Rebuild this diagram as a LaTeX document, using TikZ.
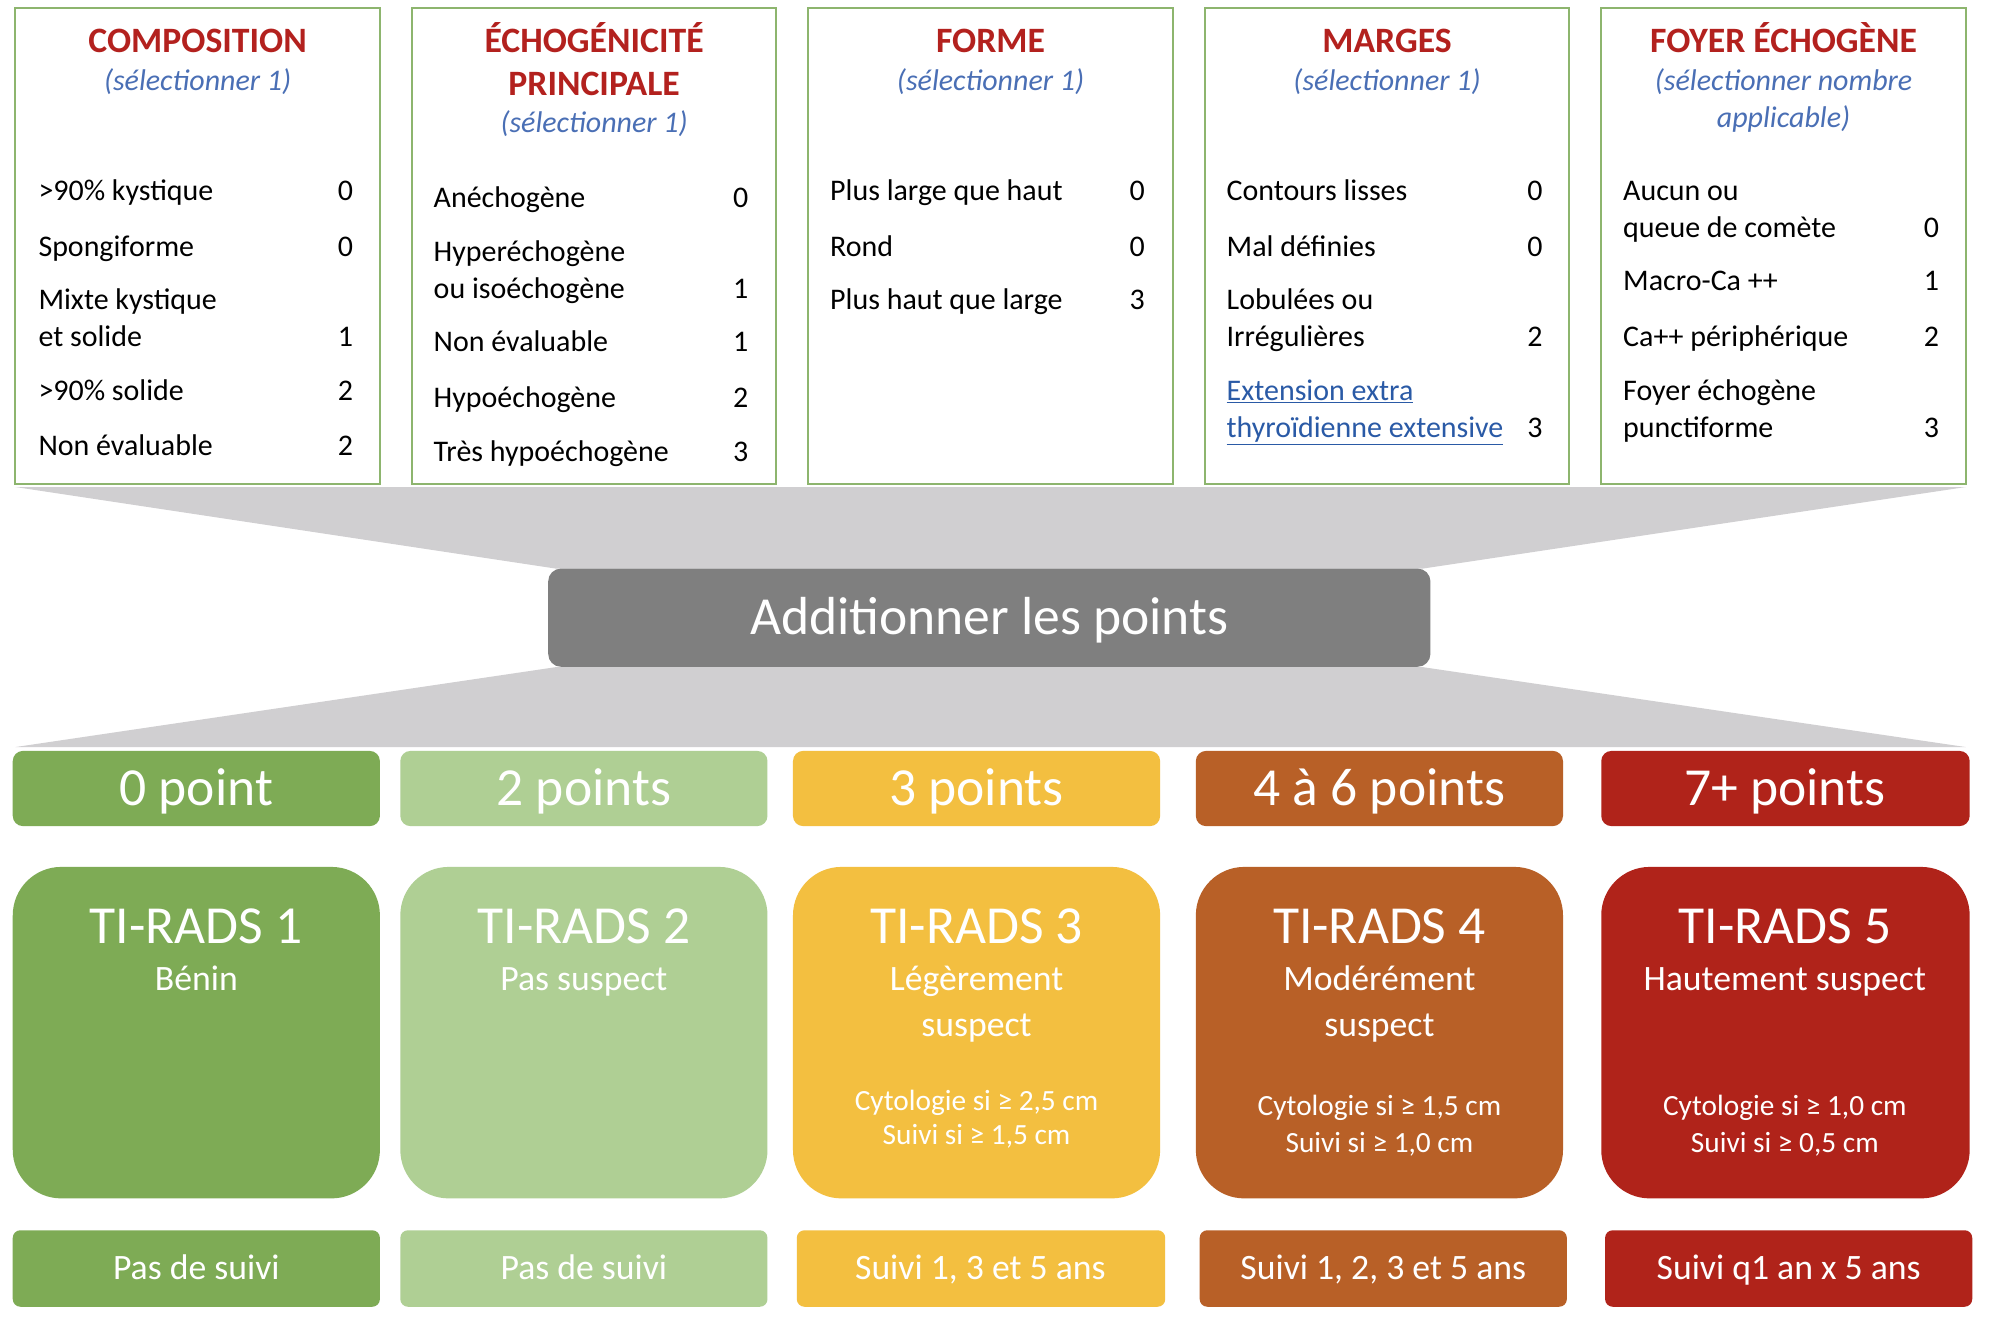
\documentclass[tikz,border=0pt]{standalone}
\usepackage{fontspec}
\setmainfont{Carlito}
\definecolor{boxgreen}{HTML}{8DB56E}
\definecolor{titlered}{HTML}{B3211E}
\definecolor{subblue}{HTML}{4A6FB5}
\definecolor{linkblue}{HTML}{2A5AA6}
\definecolor{funnel}{HTML}{D0CFD1}
\definecolor{sumgray}{HTML}{7F7F7F}
\definecolor{cA}{HTML}{7EAB55}
\definecolor{cB}{HTML}{AFCF94}
\definecolor{cC}{HTML}{F3BF40}
\definecolor{cD}{HTML}{B86027}
\definecolor{cE}{HTML}{B0231A}
\begin{document}
\begin{tikzpicture}[x=1pt,y=-1pt,
  critbox/.style={draw=boxgreen, line width=1.5pt, fill=white, inner sep=0, minimum width=286pt, minimum height=374pt},
  ttl/.style={font=\fontsize{28}{34}\selectfont\bfseries, text=titlered, anchor=base, inner sep=0},
  sub/.style={font=\fontsize{23.5}{28}\selectfont\itshape, text=subblue, anchor=base, inner sep=0},
  item/.style={font=\fontsize{23.5}{28}\selectfont, anchor=base west, inner sep=0},
  num/.style={font=\fontsize{23.5}{28}\selectfont, anchor=base, inner sep=0},
  lnk/.style={item, text=linkblue},
  ptbox/.style={inner sep=0, minimum width=288pt, minimum height=59pt, rounded corners=8pt},
  radbox/.style={inner sep=0, minimum width=288pt, minimum height=260pt, rounded corners=38pt},
  fupbox/.style={inner sep=0, minimum width=288pt, minimum height=60pt, rounded corners=6pt},
  big/.style={font=\fontsize{42}{50}\selectfont, text=white, anchor=base, inner sep=0},
  mid/.style={font=\fontsize{28}{34}\selectfont, text=white, anchor=base, inner sep=0},
  small/.style={font=\fontsize{23}{28}\selectfont, text=white, anchor=base, inner sep=0}
]
\useasboundingbox[fill=white] (0,0) rectangle (1568,1035);

% criteria boxes
\node[critbox] (c1) at (155,193) {};
\node[critbox] (c2) at (466,193) {};
\node[critbox] (c3) at (777,193) {};
\node[critbox] (c4) at (1088,193) {};
\node[critbox] (c5) at (1399,193) {};

% funnels
\coordinate (ftl) at (12,382);
\coordinate (ftr) at (1542,382);
\coordinate (fml) at (436,446);
\coordinate (fmr) at (1116,446);
\coordinate (fnl) at (438,523);
\coordinate (fnr) at (1114,523);
\coordinate (fbl) at (12,586);
\coordinate (fbr) at (1542,586);
\fill[funnel] (ftl) -- (ftr) -- (fmr) -- (fml) -- cycle;
\fill[funnel] (fnl) -- (fnr) -- (fbr) -- (fbl) -- cycle;

% summation box
\node[inner sep=0, minimum width=692pt, minimum height=77pt, rounded corners=10pt, fill=sumgray] (sum) at (776,484.5) {};
\node[big] (sumt) at (776,498) {Additionner les points};

% Composition
\node[ttl] (t1) at (155,41) {COMPOSITION};
\node[sub] (s1) at (155,71) {(sélectionner 1)};
\node[item] (i11) at (30,157) {>90\% kystique};   \node[num] (n11) at (271,157) {0};
\node[item] (i12) at (30,201) {Spongiforme};      \node[num] (n12) at (271,201) {0};
\node[item] (i13) at (30,243) {Mixte kystique};
\node[item] (i14) at (30,272) {et solide};        \node[num] (n13) at (271,272) {1};
\node[item] (i15) at (30,314) {>90\% solide};     \node[num] (n14) at (271,314) {2};
\node[item] (i16) at (30,357) {Non évaluable};    \node[num] (n15) at (271,357) {2};

% Echogenicite
\node[ttl] (t2a) at (466,41) {ÉCHOGÉNICITÉ};
\node[ttl] (t2b) at (466,75) {PRINCIPALE};
\node[sub] (s2) at (466,104) {(sélectionner 1)};
\node[item] (i21) at (340,163) {Anéchogène};        \node[num] (n21) at (581,163) {0};
\node[item] (i22) at (340,205) {Hyperéchogène};
\node[item] (i23) at (340,234) {ou isoéchogène};    \node[num] (n22) at (581,234) {1};
\node[item] (i24) at (340,276) {Non évaluable};     \node[num] (n23) at (581,276) {1};
\node[item] (i25) at (340,320) {Hypoéchogène};      \node[num] (n24) at (581,320) {2};
\node[item] (i26) at (340,362) {Très hypoéchogène}; \node[num] (n25) at (581,362) {3};

% Forme
\node[ttl] (t3) at (777,41) {FORME};
\node[sub] (s3) at (777,71) {(sélectionner 1)};
\node[item] (i31) at (651,157) {Plus large que haut}; \node[num] (n31) at (892,157) {0};
\node[item] (i32) at (651,201) {Rond};                \node[num] (n32) at (892,201) {0};
\node[item] (i33) at (651,243) {Plus haut que large}; \node[num] (n33) at (892,243) {3};

% Marges
\node[ttl] (t4) at (1088,41) {MARGES};
\node[sub] (s4) at (1088,71) {(sélectionner 1)};
\node[item] (i41) at (962,157) {Contours lisses}; \node[num] (n41) at (1204,157) {0};
\node[item] (i42) at (962,201) {Mal définies};    \node[num] (n42) at (1204,201) {0};
\node[item] (i43) at (962,243) {Lobulées ou};
\node[item] (i44) at (962,272) {Irrégulières};    \node[num] (n43) at (1204,272) {2};
\node[lnk] (i45) at (962,314) {\underline{Extension extra}};
\node[lnk] (i46) at (962,343) {\underline{thyroïdienne extensive}}; \node[num] (n44) at (1204,343) {3};

% Foyer echogene
\node[ttl] (t5) at (1399,41) {FOYER ÉCHOGÈNE};
\node[sub] (s5a) at (1399,71) {(sélectionner nombre};
\node[sub] (s5b) at (1399,100) {applicable)};
\node[item] (i51) at (1273,157) {Aucun ou};
\node[item] (i52) at (1273,186) {queue de comète};   \node[num] (n51) at (1515,186) {0};
\node[item] (i53) at (1273,228) {Macro-Ca ++};       \node[num] (n52) at (1515,228) {1};
\node[item] (i54) at (1273,272) {Ca++ périphérique}; \node[num] (n53) at (1515,272) {2};
\node[item] (i55) at (1273,314) {Foyer échogène};
\node[item] (i56) at (1273,343) {punctiforme};       \node[num] (n54) at (1515,343) {3};

% points row
\node[ptbox, fill=cA] (p1) at (154,618.5) {};
\node[ptbox, fill=cB] (p2) at (458,618.5) {};
\node[ptbox, fill=cC] (p3) at (766,618.5) {};
\node[ptbox, fill=cD] (p4) at (1082,618.5) {};
\node[ptbox, fill=cE, minimum width=289pt] (p5) at (1400.5,618.5) {};
\node[big] (p1t) at (154,632) {0 point};
\node[big] (p2t) at (458,632) {2 points};
\node[big] (p3t) at (766,632) {3 points};
\node[big] (p4t) at (1082,632) {4 à 6 points};
\node[big] (p5t) at (1400,632) {7+ points};

% TI-RADS row
\node[radbox, fill=cA] (r1) at (154,810) {};
\node[radbox, fill=cB] (r2) at (458,810) {};
\node[radbox, fill=cC] (r3) at (766,810) {};
\node[radbox, fill=cD] (r4) at (1082,810) {};
\node[radbox, fill=cE, minimum width=289pt] (r5) at (1400.5,810) {};
\node[big] (r1t) at (154,740) {TI-RADS 1};
\node[big] (r2t) at (458,740) {TI-RADS 2};
\node[big] (r3t) at (766,740) {TI-RADS 3};
\node[big] (r4t) at (1082,740) {TI-RADS 4};
\node[big] (r5t) at (1400,740) {TI-RADS 5};
\node[mid] (r1s) at (154,777) {Bénin};
\node[mid] (r2s) at (458,777) {Pas suspect};
\node[mid] (r3s) at (766,777) {Légèrement};
\node[mid] (r3u) at (766,813) {suspect};
\node[mid] (r4s) at (1082,777) {Modérément};
\node[mid] (r4u) at (1082,813) {suspect};
\node[mid] (r5s) at (1400,777) {Hautement suspect};
\node[small] (r3c) at (766,871) {Cytologie si ≥ 2,5 cm};
\node[small] (r3f) at (766,898) {Suivi si ≥ 1,5 cm};
\node[small] (r4c) at (1082,875) {Cytologie si ≥ 1,5 cm};
\node[small] (r4f) at (1082,904) {Suivi si ≥ 1,0 cm};
\node[small] (r5c) at (1400,875) {Cytologie si ≥ 1,0 cm};
\node[small] (r5f) at (1400,904) {Suivi si ≥ 0,5 cm};

% follow-up row
\node[fupbox, fill=cA] (f1) at (154,995) {};
\node[fupbox, fill=cB] (f2) at (458,995) {};
\node[fupbox, fill=cC, minimum width=289pt] (f3) at (769.5,995) {};
\node[fupbox, fill=cD] (f4) at (1085,995) {};
\node[fupbox, fill=cE] (f5) at (1403,995) {};
\node[mid] (f1t) at (154,1004) {Pas de suivi};
\node[mid] (f2t) at (458,1004) {Pas de suivi};
\node[mid] (f3t) at (769,1004) {Suivi 1, 3 et 5 ans};
\node[mid] (f4t) at (1085,1004) {Suivi 1, 2, 3 et 5 ans};
\node[mid] (f5t) at (1403,1004) {Suivi q1 an x 5 ans};
\end{tikzpicture}
\end{document}
